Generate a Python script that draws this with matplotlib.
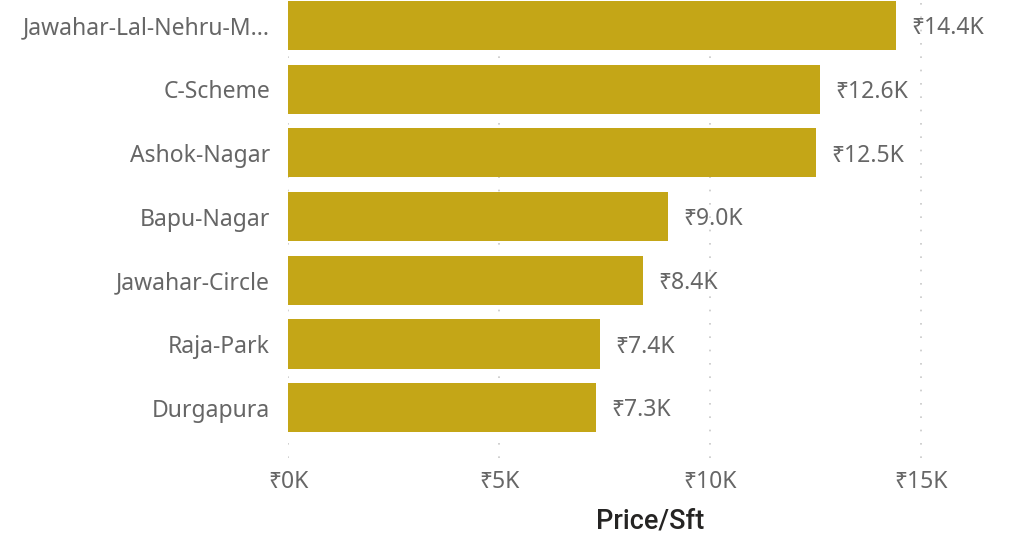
import matplotlib.pyplot as plt
import numpy as np

plt.rcParams['font.family'] = ['Noto Sans', 'DejaVu Sans']

areas = ["Jawahar-Lal-Nehru-M...", "C-Scheme", "Ashok-Nagar", "Bapu-Nagar",
         "Jawahar-Circle", "Raja-Park", "Durgapura"]
price = [14.4, 12.6, 12.5, 9.0, 8.4, 7.4, 7.3]   # thousands of rupees per sft
xticks = [0, 5, 10, 15]

fig = plt.figure(figsize=(10.16, 5.34), dpi=100)
ax = fig.add_axes([288 / 1016, 1 - 458 / 534, 724 / 1016, 458 / 534])

ypos = np.arange(len(areas))
ax.barh(ypos, price, height=0.77, color="#C4A617", zorder=2)

# value labels at the end of each bar
for y, v in zip(ypos, price):
    ax.annotate(f"₹{v:.1f}K", (v, y), xytext=(11, -2), textcoords="offset points",
                va="center", ha="left", fontsize=16.5, color="#666666")

ax.set_xlim(0, 17.15)
ax.set_ylim(6.79, -0.40)
ax.set_yticks(ypos)
ax.set_yticklabels(areas, fontsize=16.5, color="#666666")
ax.set_xticks(xticks)
ax.set_xticklabels([f"₹{t}K" for t in xticks], fontsize=16.5, color="#666666")
ax.tick_params(axis="y", length=0, pad=13)
ax.tick_params(axis="x", length=0, pad=9)

ax.xaxis.grid(True, linestyle=(0, (1, 7)), color="#C8C8C8", linewidth=1.2, zorder=0)
for s in ax.spines.values():
    s.set_visible(False)

ax.set_xlabel("Price/Sft", fontsize=19.5, color="#252423", labelpad=9,
              family=["Roboto", "DejaVu Sans"], fontweight="medium")

fig.savefig("out.png", dpi=100)
